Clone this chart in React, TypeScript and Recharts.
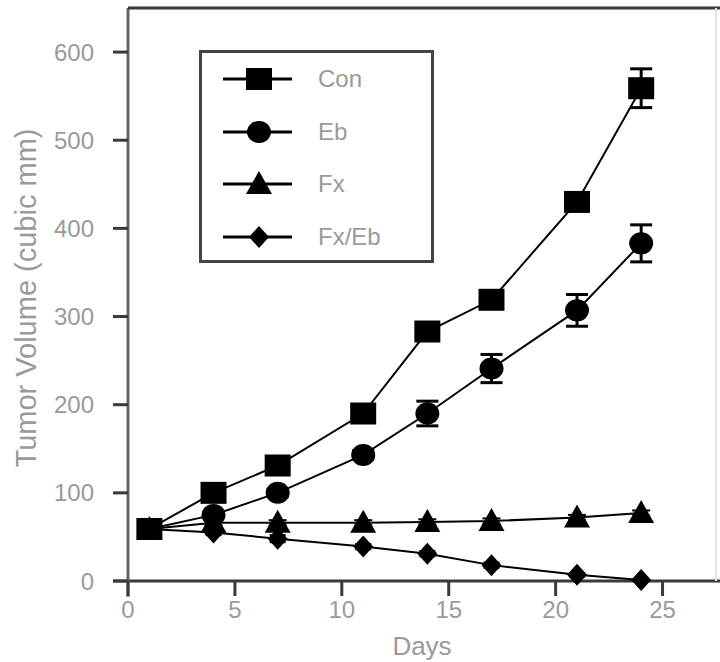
import React from 'react';
import { LineChart, Line, XAxis, YAxis, ErrorBar, ReferenceLine, Legend } from 'recharts';

// days of measurement
const days = [1, 4, 7, 11, 14, 17, 21, 24];

// tumor volume (cubic mm) per group, with SEM
const con = [59, 100, 131, 190, 283, 319, 430, 559];
const conErr = [2, 3, 3, 5, 6, 5, 9, 22];
const eb = [59, 75, 100, 143, 190, 241, 307, 383];
const ebErr = [2, 3, 4, 5, 14, 16, 18, 21];
const fx = [59, 66, 66, 66, 67, 68, 72, 77];
const fxErr = [2, 3, 3, 3, 3, 3, 3, 3];
const fxeb = [59, 55, 48, 39, 31, 18, 7, 1];
const fxebErr = [2, 3, 4, 3, 3, 3, 2, 1];

const xTicks = [0, 5, 10, 15, 20, 25];
const yTicks = [0, 100, 200, 300, 400, 500, 600];

const seriesNames = ['Con', 'Eb', 'Fx', 'Fx/Eb'];

const data = days.map((d, i) => ({
    day: d,
    con: con[i], conErr: conErr[i],
    eb: eb[i], ebErr: ebErr[i],
    fx: fx[i], fxErr: fxErr[i],
    fxeb: fxeb[i], fxebErr: fxebErr[i],
}));

const FONT = '"Liberation Sans", Arial, sans-serif';
const GREY = '#9a9a9a';
const AXIS = '#3a3a3a';

type Kind = 'square' | 'circle' | 'triangle' | 'diamond';

const Marker = ({ kind, cx, cy }: { kind: Kind; cx: number; cy: number }) => {
    if (kind === 'square') return <rect x={cx - 13} y={cy - 11} width={26} height={22} fill="#000" />;
    if (kind === 'circle') return <ellipse cx={cx} cy={cy} rx={12} ry={11} fill="#000" />;
    if (kind === 'triangle') return <polygon points={`${cx},${cy - 13} ${cx + 13},${cy + 10} ${cx - 13},${cy + 10}`} fill="#000" />;
    return <polygon points={`${cx},${cy - 11} ${cx + 10},${cy} ${cx},${cy + 11} ${cx - 10},${cy}`} fill="#000" />;
};

const dotFor = (kind: Kind) => (p: any) => (
    <Marker key={`${kind}-${p.index}`} kind={kind} cx={p.cx} cy={p.cy} />
);

const kinds: Kind[] = ['square', 'circle', 'triangle', 'diamond'];

const LegendBox = () => (
    <div style={{ boxSizing: 'border-box', width: 235, height: 213, border: '3px solid #444', background: '#fff', position: 'relative' }}>
        {seriesNames.map((name, i) => (
            <div key={name} style={{ position: 'absolute', left: 0, top: 10 + i * 52.5, height: 32, display: 'flex', alignItems: 'center' }}>
                <svg width={110} height={32} style={{ display: 'block' }}>
                    <line x1={21} x2={90} y1={16} y2={16} stroke="#000" strokeWidth={3} />
                    <Marker kind={kinds[i]} cx={57} cy={16} />
                </svg>
                <span style={{ marginLeft: 6, fontFamily: FONT, fontSize: 24, color: GREY }}>{name}</span>
            </div>
        ))}
    </div>
);

export default function App() {
    return (
        <div style={{ position: 'absolute', left: 0, top: 0, width: 720, height: 662, background: '#fff' }}>
            <LineChart width={720} height={662} data={data} margin={{ top: 8, right: 4, left: 0, bottom: 0 }}>
                <XAxis
                    dataKey="day"
                    type="number"
                    domain={[0, 27.5]}
                    ticks={xTicks}
                    allowDataOverflow
                    height={81}
                    axisLine={false}
                    tickSize={15}
                    tickMargin={5}
                    tickLine={{ stroke: AXIS, strokeWidth: 3 }}
                    tick={{ fill: GREY, fontSize: 24, fontFamily: FONT }}
                    label={() => (
                        <text x={422} y={655} textAnchor="middle" fill={GREY} fontSize={26} fontFamily={FONT}>Days</text>
                    )}
                />
                <YAxis
                    type="number"
                    domain={[0, 650]}
                    ticks={yTicks}
                    width={128}
                    axisLine={false}
                    tickSize={15}
                    tickMargin={19}
                    tickLine={{ stroke: AXIS, strokeWidth: 3 }}
                    tick={{ fill: GREY, fontSize: 24, fontFamily: FONT }}
                    label={() => (
                        <text x={36} y={298} transform="rotate(-90 36 298)" textAnchor="middle" fill={GREY} fontSize={29} fontFamily={FONT}>
                            Tumor Volume (cubic mm)
                        </text>
                    )}
                />
                {/* frame: offset axes plus top/right border */}
                <ReferenceLine segment={[{ x: -0.7, y: 0 }, { x: 27.7, y: 0 }]} stroke={AXIS} strokeWidth={3} ifOverflow="visible" />
                <ReferenceLine segment={[{ x: 0, y: -18 }, { x: 0, y: 650 }]} stroke="#666" strokeWidth={3} ifOverflow="visible" />
                <ReferenceLine segment={[{ x: 0, y: 650 }, { x: 27.7, y: 650 }]} stroke={AXIS} strokeWidth={3} ifOverflow="visible" />
                <ReferenceLine segment={[{ x: 27.5, y: 0 }, { x: 27.5, y: 650 }]} stroke="#e4e4e4" strokeWidth={2} ifOverflow="visible" />

                <Line dataKey="fxeb" stroke="#000" strokeWidth={2} dot={dotFor('diamond')} isAnimationActive={false}>
                    <ErrorBar dataKey="fxebErr" width={8} stroke="#000" strokeWidth={2} />
                </Line>
                <Line dataKey="fx" stroke="#000" strokeWidth={2} dot={dotFor('triangle')} isAnimationActive={false}>
                    <ErrorBar dataKey="fxErr" width={9} stroke="#000" strokeWidth={2} />
                </Line>
                <Line dataKey="eb" stroke="#000" strokeWidth={2} dot={dotFor('circle')} isAnimationActive={false}>
                    <ErrorBar dataKey="ebErr" width={11} stroke="#000" strokeWidth={3} />
                </Line>
                <Line dataKey="con" stroke="#000" strokeWidth={2} dot={dotFor('square')} isAnimationActive={false}>
                    <ErrorBar dataKey="conErr" width={11} stroke="#000" strokeWidth={3} />
                </Line>
                <Legend
                    layout="horizontal"
                    verticalAlign="middle"
                    align="center"
                    content={() => <LegendBox />}
                    wrapperStyle={{ position: 'absolute', left: 199, top: 50, width: 235, height: 213 }}
                />
            </LineChart>
        </div>
    );
}
